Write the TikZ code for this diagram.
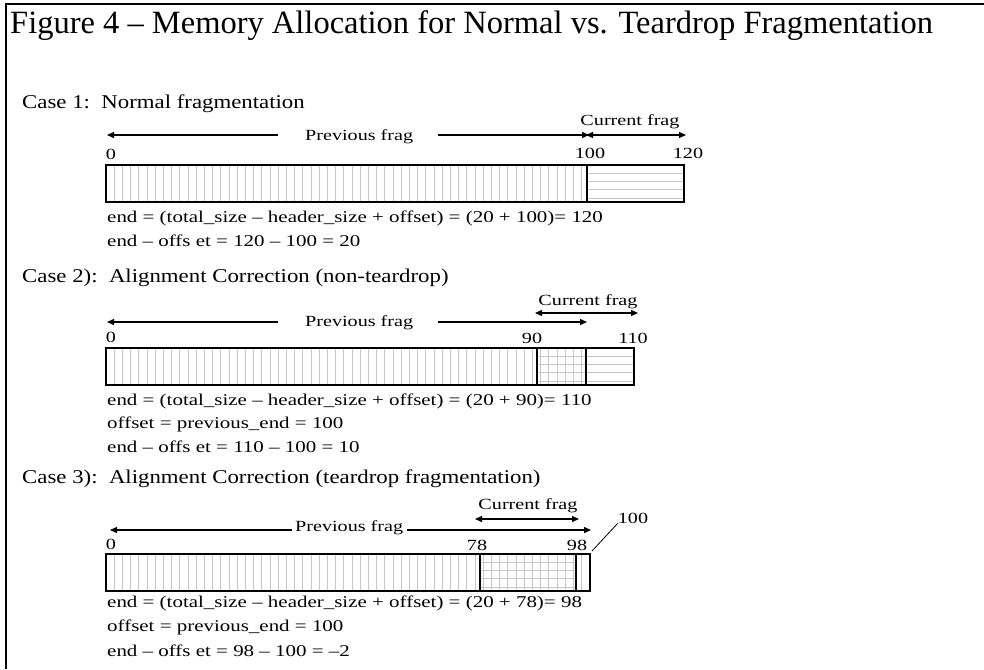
\documentclass[tikz,border=0pt]{standalone}
\usepackage{fontspec}
\setmainfont{Liberation Serif}
\newfontfamily\smallfig[FakeStretch=1.3]{Liberation Serif}
\newfontfamily\eqnfig[FakeStretch=1.27]{Liberation Serif}
\newfontfamily\casefig[FakeStretch=1.17]{Liberation Serif}
\usetikzlibrary{arrows.meta}
\def\sz#1{\fontsize{#1}{#1}\selectfont}

\begin{document}
\begin{tikzpicture}[x=1pt,y=-1pt,
  txt/.style={anchor=base west,inner sep=0pt,font=\eqnfig\sz{16.5}},
  prevtxt/.style={anchor=base west,inner sep=0pt,font=\smallfig\sz{15.5}},
  num/.style={anchor=base,inner sep=0pt,font=\smallfig\sz{15.5}},
  casetxt/.style={anchor=base west,inner sep=0pt,font=\casefig\sz{19.5}},
  frag/.style={line width=1.3pt,-{Triangle[length=7pt,width=6pt]}},
  curfrag/.style={line width=1.3pt,{Triangle[length=7pt,width=6pt]}-{Triangle[length=7pt,width=6pt]}},
  vhatch/.style={draw=black!22,line width=0.9pt},
  bar/.style={draw=black,line width=1.3pt}]
\useasboundingbox (0,0) rectangle (984,669);

%% frame
\coordinate (fbot) at (6,669);
\coordinate (fcorner) at (6,4);
\coordinate (fright) at (984,4);
\draw[line width=1.3pt] (fbot) -- (fcorner) -- (fright);
\node[anchor=base west,inner sep=0pt,font=\sz{32.5}] (title) at (10,34) {Figure 4 – Memory Allocation for Normal vs. Teardrop Fragmentation};

%%% case 1 %%%%
\node[casetxt] (case1) at (22,108) {Case 1:\ \ Normal fragmentation};
%% bar
\foreach \k in {1,...,58} \draw[vhatch] ({106+8.2*\k},165) -- ++(0,37);
\foreach \k in {1,...,4} \draw[vhatch] (587,{165+8.3*\k}) -- (684,{165+8.3*\k});
\draw[bar] (106,165) rectangle (684,202);
\draw[bar] (587,165) -- (587,202);
%% arrows
\coordinate (p1a) at (107,135);
\coordinate (p1b) at (278,135);
\coordinate (p1c) at (438,135);
\coordinate (p1d) at (589,135);
\coordinate (c1a) at (586,135);
\coordinate (c1b) at (686,135);
\draw[frag] (p1b) -- (p1a);
\draw[frag] (p1c) -- (p1d);
\draw[curfrag] (c1a) -- (c1b);
%% labels
\node[prevtxt] (prev1) at (305,140) {Previous frag};
\node[num] (cur1) at (630,125) {Current frag};
\node[num] (n1a) at (111,159) {0};
\node[num] (n1b) at (590,158) {100};
\node[num] (n1c) at (688,158) {120};
\node[txt] (e1a) at (107,222) {end = (total\_size – header\_size + offset) = (20 + 100)= 120};
\node[txt] (e1b) at (107,246) {end – offs et = 120 – 100 = 20};

%%% case 2 %%%%
\node[casetxt] (case2) at (22,282) {Case 2):\ \ Alignment Correction (non-teardrop)};
%% bar
\foreach \k in {1,...,58} \draw[vhatch] ({106+8.2*\k},348) -- ++(0,37);
\foreach \k in {1,...,4} \draw[vhatch] (537,{348+8.3*\k}) -- (634,{348+8.3*\k});
\draw[bar] (106,348) rectangle (634,385);
\draw[bar] (537,348) -- (537,385);
\draw[bar] (586,348) -- (586,385);
%% arrows
\coordinate (p2a) at (107,322);
\coordinate (p2b) at (278,322);
\coordinate (p2c) at (438,322);
\coordinate (p2d) at (587,322);
\coordinate (c2a) at (535,313);
\coordinate (c2b) at (638,313);
\draw[frag] (p2b) -- (p2a);
\draw[frag] (p2c) -- (p2d);
\draw[curfrag] (c2a) -- (c2b);
%% labels
\node[prevtxt] (prev2) at (305,326) {Previous frag};
\node[num] (cur2) at (588,305) {Current frag};
\node[num] (n2a) at (111,342) {0};
\node[num] (n2b) at (532,343) {90};
\node[num] (n2c) at (633,343) {110};
\node[txt] (e2a) at (107,405) {end = (total\_size – header\_size + offset) = (20 + 90)= 110};
\node[txt] (e2b) at (107,428) {offset = previous\_end = 100};
\node[txt] (e2c) at (107,452) {end – offs et = 110 – 100 = 10};

%%% case 3 %%%%
\node[casetxt] (case3) at (22,483) {Case 3):\ \ Alignment Correction (teardrop fragmentation)};
%% bar
\foreach \k in {1,...,58} \draw[vhatch] ({106+8.2*\k},554) -- ++(0,37);
\foreach \k in {1,...,4} \draw[vhatch] (480,{554+8.3*\k}) -- (576,{554+8.3*\k});
\draw[bar] (106,554) rectangle (590,591);
\draw[bar] (480,554) -- (480,591);
\draw[bar] (576,554) -- (576,591);
%% arrows
\coordinate (p3a) at (110,530);
\coordinate (p3b) at (292,530);
\coordinate (p3c) at (407,530);
\coordinate (p3d) at (591,530);
\coordinate (c3a) at (475,519);
\coordinate (c3b) at (579,519);
\draw[frag] (p3b) -- (p3a);
\draw[frag] (p3c) -- (p3d);
\draw[curfrag] (c3a) -- (c3b);
%% labels
\node[prevtxt] (prev3) at (295,531) {Previous frag};
\node[num] (cur3) at (528,509) {Current frag};
\node[num] (n3a) at (111,549) {0};
\node[num] (n3b) at (477,550) {78};
\node[num] (n3c) at (577,550) {98};
\node[num] (n3d) at (633,523) {100};
\coordinate (lead) at (592,551);
\draw[line width=0.8pt] (lead) -- (n3d.south west);
\node[txt] (e3a) at (107,607) {end = (total\_size – header\_size + offset) = (20 + 78)= 98};
\node[txt] (e3b) at (107,631) {offset = previous\_end = 100};
\node[txt] (e3c) at (107,656) {end – offs et = 98 – 100 = –2};

\end{tikzpicture}
\end{document}
